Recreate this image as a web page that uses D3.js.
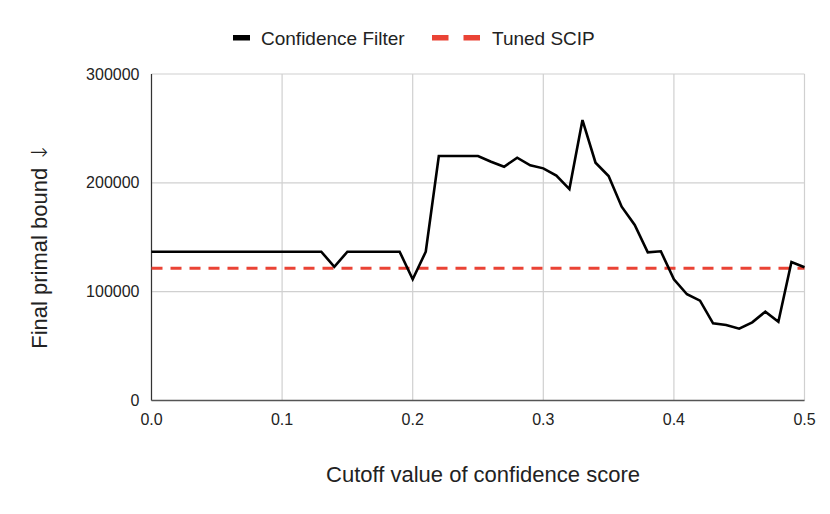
<!DOCTYPE html>
<meta charset="utf-8">
<script src="https://d3js.org/d3.v7.min.js"></script>
<style>
  body { margin: 0; background: #fff; }
  text { font-family: "Liberation Sans", Arial, sans-serif; fill: #222; }
</style>
<div id="chart"></div>
<script>
    // cutoff values 0.00 .. 0.50, step 0.01
    var cutoffs = d3.range(0, 51).map(function (i) { return i / 100; });

    // Confidence Filter final primal bound at each cutoff
    var confidenceFilter = [
        136700, 136700, 136700, 136700, 136700, 136700, 136700, 136700, 136700, 136700,
        136700, 136700, 136700, 136700, 122900, 136700, 136700, 136700, 136700, 136700,
        111400, 136700, 224700, 224700, 224700, 224700, 219400, 214800, 223100, 216100,
        213300, 206600, 194300, 257700, 218500, 206300, 178100, 161300, 136200, 137100,
        111400, 97600, 91700, 70900, 69400, 66000, 71800, 81600, 72400, 127300,
        122400
    ];

    // Tuned SCIP baseline
    var tunedScip = 121500;

    var yTicks = [0, 100000, 200000, 300000];
    var xTicks = [0, 0.1, 0.2, 0.3, 0.4, 0.5];

    var width = 830, height = 514;
    var margin = {top: 74, right: 25.5, bottom: 113.5, left: 151.5};
    var innerW = width - margin.left - margin.right,
        innerH = height - margin.top - margin.bottom;

    var svg = d3.select("#chart")
        .append("svg")
        .attr("width", width)
        .attr("height", height);

    var g = svg.append("g")
        .attr("transform", "translate(" + margin.left + "," + margin.top + ")");

    var x = d3.scaleLinear().domain([0, 0.5]).range([0, innerW]);
    var y = d3.scaleLinear().domain([0, 300000]).range([innerH, 0]);

    // grid lines
    g.selectAll(".vgrid")
        .data(xTicks)
        .enter()
        .append("line")
        .attr("x1", function (d) { return x(d); })
        .attr("x2", function (d) { return x(d); })
        .attr("y1", 0)
        .attr("y2", innerH)
        .attr("stroke", "#d0d0d0")
        .attr("stroke-width", 1.2);

    g.selectAll(".hgrid")
        .data(yTicks)
        .enter()
        .append("line")
        .attr("x1", 0)
        .attr("x2", innerW)
        .attr("y1", function (d) { return y(d); })
        .attr("y2", function (d) { return y(d); })
        .attr("stroke", "#d0d0d0")
        .attr("stroke-width", 1.2);

    // axes lines
    g.append("line")
        .attr("x1", 0).attr("x2", 0)
        .attr("y1", 0).attr("y2", innerH)
        .attr("stroke", "#333").attr("stroke-width", 1.2);
    g.append("line")
        .attr("x1", 0).attr("x2", innerW)
        .attr("y1", innerH).attr("y2", innerH)
        .attr("stroke", "#555").attr("stroke-width", 1.5);

    // tick labels
    g.selectAll(".ylab")
        .data(yTicks)
        .enter()
        .append("text")
        .attr("x", -12)
        .attr("y", function (d) { return y(d) + 5.5; })
        .attr("text-anchor", "end")
        .attr("font-size", "16px")
        .text(function (d) { return d; });

    g.selectAll(".xlab")
        .data(xTicks)
        .enter()
        .append("text")
        .attr("x", function (d) { return x(d); })
        .attr("y", innerH + 24)
        .attr("text-anchor", "middle")
        .attr("font-size", "16px")
        .text(function (d) { return d.toFixed(1); });

    // tuned SCIP dashed line
    g.append("line")
        .attr("x1", 0)
        .attr("x2", innerW)
        .attr("y1", y(tunedScip))
        .attr("y2", y(tunedScip))
        .attr("stroke", "#ea4335")
        .attr("stroke-width", 3)
        .attr("stroke-dasharray", "11,8");

    // confidence filter line
    var line = d3.line()
        .x(function (d, i) { return x(cutoffs[i]); })
        .y(function (d) { return y(d); });

    g.append("path")
        .datum(confidenceFilter)
        .attr("d", line)
        .attr("fill", "none")
        .attr("stroke", "#000")
        .attr("stroke-width", 2.6)
        .attr("stroke-linejoin", "miter");

    // axis titles
    svg.append("text")
        .attr("x", 483)
        .attr("y", 482)
        .attr("text-anchor", "middle")
        .attr("font-size", "22px")
        .text("Cutoff value of confidence score");

    var yTitle = svg.append("text")
        .attr("transform", "translate(47,246) rotate(-90)")
        .attr("text-anchor", "middle")
        .attr("font-size", "22px");
    yTitle.append("tspan").text("Final primal bound ");
    yTitle.append("tspan")
        .attr("font-family", "'DejaVu Sans', sans-serif")
        .attr("font-weight", 200)
        .text("\u2193");

    // legend
    var legend = svg.append("g");
    legend.append("rect")
        .attr("x", 233).attr("y", 35)
        .attr("width", 17).attr("height", 5.5)
        .attr("fill", "#000");
    legend.append("text")
        .attr("x", 261).attr("y", 44.5)
        .attr("font-size", "19px")
        .text("Confidence Filter");
    legend.append("line")
        .attr("x1", 432).attr("x2", 481)
        .attr("y1", 37.7).attr("y2", 37.7)
        .attr("stroke", "#ea4335")
        .attr("stroke-width", 5.5)
        .attr("stroke-dasharray", "16.5,15");
    legend.append("text")
        .attr("x", 492).attr("y", 44.5)
        .attr("font-size", "19px")
        .text("Tuned SCIP");
</script>
